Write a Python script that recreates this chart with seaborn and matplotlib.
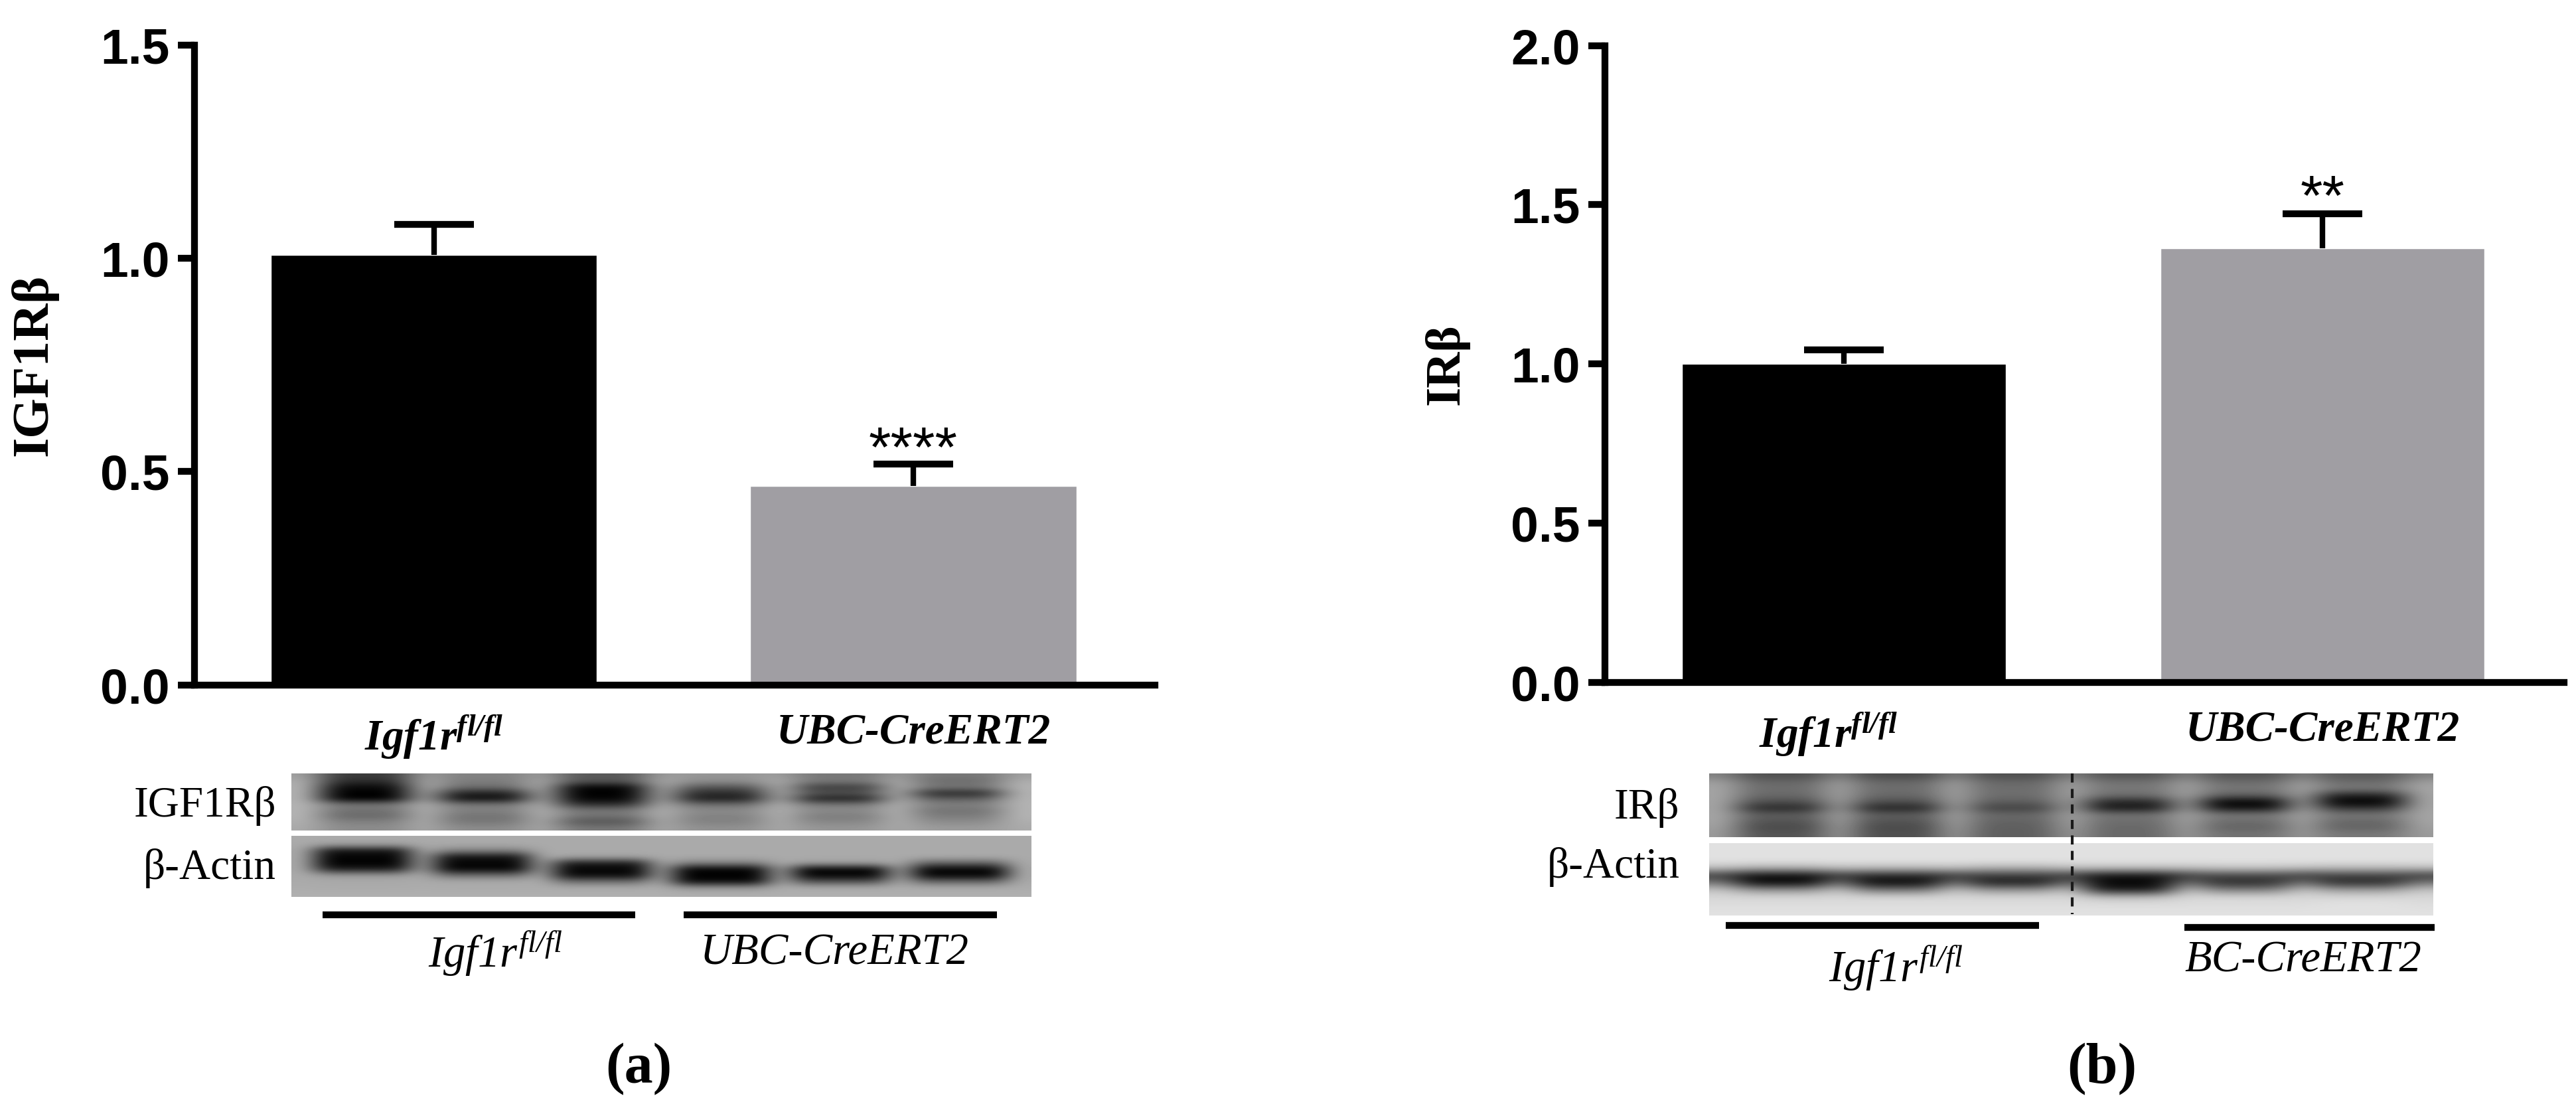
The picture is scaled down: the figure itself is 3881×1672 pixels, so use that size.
import numpy as np
import pandas as pd
import matplotlib
matplotlib.use('Agg')
import matplotlib.pyplot as plt
import seaborn as sns
from matplotlib.transforms import ScaledTranslation

W, H = 3881, 1672

# bar data
groups = [r'$\mathbf{Igf1r}^{\mathbf{fl/fl}}$', 'UBC-CreERT2']
igf1r_means = [1.008, 0.466]
igf1r_errs = [0.072, 0.051]
ir_means = [1.0, 1.363]
ir_errs = [0.044, 0.109]
igf1r_ticks = [0.0, 0.5, 1.0, 1.5]
ir_ticks = [0.0, 0.5, 1.0, 1.5, 2.0]
igf1r_stars = '****'
ir_stars = '**'
igf1r_star_y = 0.513
ir_star_y = 1.468
bar_colors = ['#000000', '#A09EA3']

# blot grey levels, one row per height in the gel, one column per lane
blot_a_top = [
    [60, 130, 90, 150, 120, 120],
    [45, 125, 85, 140, 120, 110],
    [10, 110, 5, 85, 60, 120],
    [0, 35, 0, 45, 85, 40],
    [0, 15, 5, 30, 30, 95],
    [120, 120, 50, 110, 120, 130],
    [115, 130, 120, 140, 140, 115],
    [105, 115, 115, 130, 125, 125],
    [130, 120, 85, 130, 135, 140],
    [140, 140, 120, 145, 150, 155],
]
gap_a_top = [160, 175, 180, 180, 180, 180, 180, 180, 175, 170]
blot_a_bottom = [
    [170, 170, 170, 170, 170, 170],
    [160, 170, 170, 170, 170, 170],
    [20, 130, 170, 170, 170, 170],
    [5, 20, 165, 170, 170, 170],
    [0, 5, 30, 130, 160, 100],
    [30, 5, 5, 5, 5, 5],
    [155, 110, 10, 0, 5, 5],
    [170, 170, 110, 10, 80, 100],
    [170, 170, 170, 150, 170, 170],
    [175, 175, 175, 175, 175, 175],
]
gap_a_bottom = [170, 170, 170, 170, 170, 170, 170, 170, 172, 175]
blot_b_top = [
    [80, 75, 80, 85, 85, 90],
    [105, 105, 105, 115, 110, 110],
    [110, 110, 110, 120, 120, 120],
    [105, 105, 110, 110, 95, 35],
    [80, 80, 95, 40, 5, 0],
    [40, 35, 65, 25, 20, 55],
    [95, 95, 105, 115, 120, 120],
    [85, 85, 100, 110, 110, 105],
    [75, 75, 95, 105, 100, 100],
    [85, 80, 95, 105, 115, 120],
]
gap_b_top = [130, 160, 165, 165, 165, 165, 165, 165, 160, 155]
blot_b_bottom = [
    [225, 225, 225, 225, 225, 225],
    [225, 225, 225, 225, 225, 225],
    [225, 225, 225, 225, 225, 225],
    [175, 185, 175, 190, 195, 185],
    [15, 40, 60, 20, 70, 65],
    [10, 10, 30, 5, 45, 45],
    [150, 120, 150, 30, 130, 160],
    [215, 215, 215, 195, 215, 215],
    [220, 220, 220, 220, 220, 225],
    [225, 225, 225, 225, 225, 225],
]
gap_b_bottom = [225, 225, 225, 190, 60, 120, 195, 215, 220, 225]

sns.set_theme(style='ticks')
plt.rcParams['font.family'] = ['Liberation Sans', 'DejaVu Sans']
plt.rcParams['text.color'] = 'black'
plt.rcParams['axes.labelcolor'] = 'black'
plt.rcParams['xtick.color'] = 'black'
plt.rcParams['ytick.color'] = 'black'
# all the math labels here are italic, so the digit in Igf1r has to be as well
plt.rcParams['mathtext.fontset'] = 'custom'
plt.rcParams['mathtext.rm'] = 'Liberation Serif:italic'
plt.rcParams['mathtext.it'] = 'Liberation Serif:italic'
plt.rcParams['mathtext.bf'] = 'Liberation Serif:italic:bold'
plt.rcParams['mathtext.default'] = 'rm'

fig = plt.figure(figsize=((W + 0.5) / 100, (H + 0.5) / 100), dpi=100, facecolor='white')


def px_axes(left, top, right, bottom):
    return fig.add_axes([left / W, 1 - bottom / H, (right - left) / W, (bottom - top) / H])


def fig_text(x, y, s, **kw):
    fig.text(x / W, 1 - y / H, s, family='Liberation Serif', color='black', va='center', **kw)


def fig_line(x0, x1, y):
    fig.add_artist(plt.Line2D([x0 / W, x1 / W], [1 - y / H, 1 - y / H], color='black', lw=7.4,
                              solid_capstyle='butt'))


def bar_panel(box, means, errs, ticks, ylabel, ylabel_size, stars, star_y, width, xlim, label_x):
    ax = px_axes(*box)
    df = pd.DataFrame({'group': groups, 'value': means})
    sns.barplot(data=df, x='group', y='value', hue='group', palette=bar_colors, saturation=1,
                width=width, legend=False, ax=ax)
    ebar = ax.errorbar([0, 1], means, yerr=[[0, 0], errs], fmt='none', ecolor='black',
                       elinewidth=6, capsize=43, capthick=7.4)
    ebar[1][0].set_visible(False)
    ax.set_xlim(*xlim)
    ax.set_ylim(ticks[0], ticks[-1])
    ax.set_yticks(ticks)
    ax.set_yticklabels([f'{t:.1f}' for t in ticks], fontsize=54, fontweight='bold')
    ax.tick_params(axis='y', length=18, width=7.4, pad=9, color='black')
    ax.tick_params(axis='x', length=0, pad=30, labelsize=47)
    for lab in ax.get_xticklabels():
        lab.set_family('Liberation Serif')
        lab.set_style('italic')
        lab.set_weight('bold')
    ax.set_xlabel('')
    ax.set_ylabel(ylabel, fontsize=ylabel_size, fontweight='bold', family='Liberation Serif')
    ax.yaxis.set_label_coords(label_x, 0.5)
    for side in ['top', 'right']:
        ax.spines[side].set_visible(False)
    for side in ['left', 'bottom']:
        ax.spines[side].set_linewidth(7.4)
        ax.spines[side].set_color('black')
    ax.patch.set_alpha(0)
    ax.text(1, star_y, stars, ha='center', va='baseline', fontsize=62, color='black',
            family='Liberation Sans')
    return ax


def expand_lanes(rows, gaps, lane_cols, gap_cols):
    # every lane gets a few columns, with the paler gel gap between lanes
    rows = np.array(rows, dtype=float)
    gaps = np.array(gaps, dtype=float).reshape(-1, 1)
    parts = [np.repeat(gaps, gap_cols, axis=1)]
    for i in range(rows.shape[1]):
        parts.append(np.repeat(rows[:, [i]], lane_cols, axis=1))
        parts.append(np.repeat(gaps, gap_cols, axis=1))
    return np.hstack(parts)


def blot(box, rows, gaps, lane_cols=3, gap_cols=1):
    ax = px_axes(*box)
    ax.imshow(expand_lanes(rows, gaps, lane_cols, gap_cols), cmap='gray', vmin=0, vmax=255,
              aspect='auto', interpolation='bicubic')
    ax.axis('off')
    return ax


# panel a
bar_panel((293, 68, 1740, 1032), igf1r_means, igf1r_errs, igf1r_ticks, 'IGF1Rβ', 56, igf1r_stars,
          igf1r_star_y, 0.68, (-0.499, 1.504), -0.142)
blot((439, 1165, 1553, 1251), blot_a_top, gap_a_top)
blot((439, 1259, 1553, 1351), blot_a_bottom, gap_a_bottom, lane_cols=4)
fig_text(416, 1214, 'IGF1Rβ', ha='right', fontsize=47)
fig_text(416, 1308, 'β-Actin', ha='right', fontsize=47)
fig_line(486, 957, 1378)
fig_line(1030, 1502, 1378)
fig_text(746, 1436, r'$\mathit{Igf1r}^{\mathit{fl/fl}}$', ha='center', fontsize=48)
fig_text(1257, 1436, 'UBC-CreERT2', ha='center', fontsize=48, style='italic')
fig_text(962, 1609, '(a)', ha='center', fontsize=62, fontweight='bold')

# panel b
ax_b = bar_panel((2418, 69, 3863, 1028), ir_means, ir_errs, ir_ticks, 'IRβ', 54, ir_stars, ir_star_y,
                 0.677, (-0.499, 1.505), -0.142)
shift = ScaledTranslation(-23 / 100, 0, fig.dpi_scale_trans)
first_label = ax_b.get_xticklabels()[0]
first_label.set_transform(first_label.get_transform() + shift)
blot((2575, 1165, 3665, 1261), blot_b_top, gap_b_top)
blot((2575, 1270, 3665, 1379), blot_b_bottom, gap_b_bottom)
fig.add_artist(plt.Line2D([3122 / W, 3122 / W], [1 - 1165 / H, 1 - 1377 / H], color='#1a1a1a', lw=3,
                          ls=(0, (3.3, 2.3))))
fig_text(2530, 1217, 'IRβ', ha='right', fontsize=47)
fig_text(2530, 1306, 'β-Actin', ha='right', fontsize=47)
fig_line(2600, 3072, 1394)
fig_line(3291, 3668, 1397)
fig_text(2856, 1458, r'$\mathit{Igf1r}^{\mathit{fl/fl}}$', ha='center', fontsize=48)
fig_text(3469, 1447, 'BC-CreERT2', ha='center', fontsize=48, style='italic')
fig_text(3166, 1609, '(b)', ha='center', fontsize=62, fontweight='bold')

fig.savefig('out.png', dpi=100, facecolor='white')
plt.close(fig)
